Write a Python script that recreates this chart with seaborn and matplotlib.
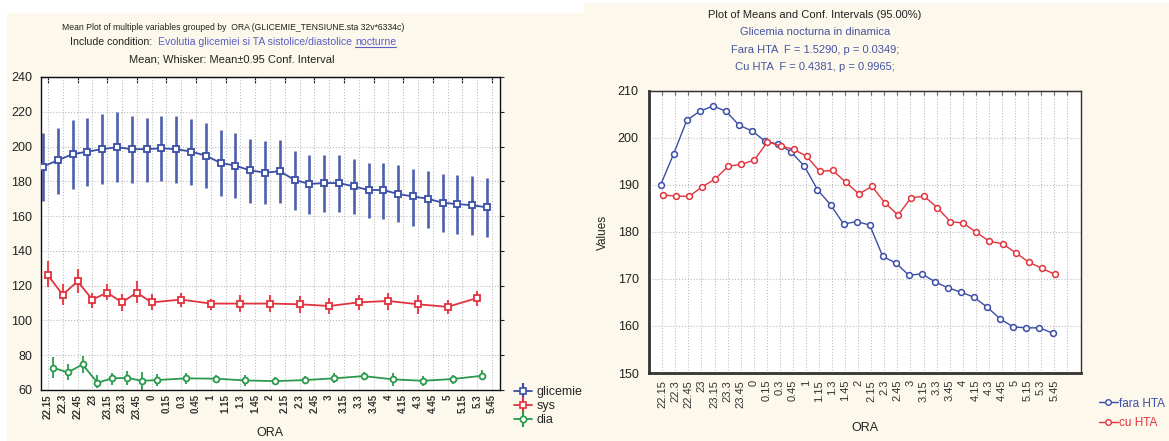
import numpy as np
import pandas as pd
import matplotlib
matplotlib.use('Agg')
import matplotlib.pyplot as plt
from matplotlib.lines import Line2D
from matplotlib.patches import Rectangle
from matplotlib.legend_handler import HandlerTuple
import seaborn as sns

# ---- data ----
ora = ['22.15', '22.3', '22.45', '23', '23.15', '23.3', '23.45', '0', '0.15', '0.3', '0.45',
       '1', '1.15', '1.3', '1.45', '2', '2.15', '2.3', '2.45', '3', '3.15', '3.3', '3.45',
       '4', '4.15', '4.3', '4.45', '5', '5.15', '5.3', '5.45']

# left panel: glicemie measured every 15 min
glic_mean = [188.5, 192.1, 195.6, 197.1, 198.5, 199.6, 198.5, 198.5, 199.0, 198.5, 197.1,
             194.8, 190.6, 189.0, 186.3, 185.0, 185.8, 180.8, 178.5, 179.0, 179.0, 177.1,
             175.0, 175.0, 172.7, 171.3, 170.0, 167.7, 166.9, 166.3, 165.0]
glic_lo = [168.8, 172.5, 175.4, 177.5, 178.3, 179.8, 178.8, 179.8, 180.2, 178.8, 177.9,
           176.0, 171.7, 170.2, 167.3, 166.9, 167.3, 163.3, 161.2, 162.5, 162.5, 161.2,
           159.2, 158.3, 156.7, 154.6, 153.3, 151.0, 149.6, 149.0, 147.7]
glic_hi = [208.0, 210.6, 215.0, 216.3, 218.7, 219.6, 217.3, 216.3, 217.3, 217.3, 215.8,
           213.8, 209.6, 208.0, 204.4, 203.3, 203.8, 197.4, 195.0, 195.0, 195.0, 192.9,
           190.8, 190.8, 189.2, 187.3, 185.8, 184.4, 183.5, 182.9, 181.7]

# tension measured less often
ta_ora = ['22.15', '22.3', '22.45', '23', '23.15', '23.3', '23.45', '0', '0.3', '1', '1.3',
          '2', '2.3', '3', '3.3', '4', '4.3', '5', '5.3']
sys_mean = [125.9, 114.8, 122.5, 112.0, 116.0, 110.4, 116.0, 110.4, 112.0, 109.7, 109.7,
            109.7, 109.3, 108.3, 110.4, 111.2, 109.3, 107.8, 112.9]
sys_lo = [119.2, 109.1, 115.8, 107.4, 111.6, 105.5, 110.0, 106.2, 107.8, 106.2, 104.9,
          104.9, 104.5, 103.9, 106.2, 105.9, 103.6, 103.6, 108.1]
sys_hi = [134.0, 121.1, 129.7, 115.8, 120.8, 115.4, 122.5, 115.4, 115.8, 112.5, 114.5,
          114.5, 113.9, 113.1, 114.5, 115.8, 114.5, 111.6, 116.9]
dia_mean = [72.8, 70.1, 74.7, 64.2, 66.7, 67.0, 65.3, 65.7, 66.7, 66.5, 65.5,
            65.1, 65.7, 66.7, 68.0, 66.1, 65.3, 66.3, 68.2]
dia_lo = [66.7, 65.7, 69.5, 60.9, 62.8, 62.8, 60.0, 62.3, 63.4, 64.2, 62.3,
          62.8, 63.4, 63.8, 65.7, 62.3, 62.3, 63.4, 65.7]
dia_hi = [79.1, 74.7, 79.7, 68.6, 70.0, 71.1, 70.5, 69.1, 69.5, 68.6, 68.6,
          67.6, 68.0, 69.5, 70.5, 69.5, 68.0, 68.6, 71.4]

# right panel: glicemia by HTA group
fara_hta = [190.1, 196.7, 203.8, 205.7, 206.8, 205.7, 202.7, 201.5, 199.3, 198.7, 197.0,
            194.0, 189.0, 185.8, 181.7, 182.2, 181.5, 174.8, 173.4, 170.8, 171.1, 169.4,
            168.1, 167.2, 166.1, 164.0, 161.5, 159.8, 159.6, 159.6, 158.5]
cu_hta = [187.9, 187.6, 187.6, 189.6, 191.3, 194.0, 194.4, 195.3, 199.2, 198.3, 197.6,
          196.1, 192.9, 193.1, 190.6, 188.1, 189.7, 186.2, 183.6, 187.3, 187.6, 185.2,
          182.2, 181.9, 179.9, 178.0, 177.5, 175.6, 173.6, 172.3, 171.0]

BLUE = '#3b4ea6'
RED = '#e2333d'
GREEN = '#2a9a4c'
CREAM = '#fdf8ec'
TBLUE = '#5a5ec6'
TBLUE2 = '#45549f'
GRID = '#bdbdbd'

sns.set_style('white')
plt.rcParams['font.family'] = ['Liberation Sans', 'DejaVu Sans']

W, H = 1169, 441
fig = plt.figure(figsize=(W / 100, H / 100), dpi=100, facecolor='white')

# cream panels behind each chart
fig.patches.append(Rectangle((7 / W, 0), 577 / W, 1 - 13 / H, transform=fig.transFigure,
                             facecolor=CREAM, edgecolor='none', zorder=-10))
fig.patches.append(Rectangle((584 / W, 0), 585 / W, 1 - 3 / H, transform=fig.transFigure,
                             facecolor=CREAM, edgecolor='none', zorder=-10))

pos = {o: i for i, o in enumerate(ora)}

# ================= left chart =================
axL = fig.add_axes([41 / W, 1 - 390 / H, 459 / W, 313 / H])
axL.set_facecolor('white')

glic = pd.DataFrame({'x': np.arange(len(ora)) - 0.34, 'mean': glic_mean,
                     'lo': glic_lo, 'hi': glic_hi})
ta_x = np.array([pos[o] for o in ta_ora], dtype=float)
sysd = pd.DataFrame({'x': ta_x, 'mean': sys_mean, 'lo': sys_lo, 'hi': sys_hi})
diad = pd.DataFrame({'x': ta_x + 0.34, 'mean': dia_mean, 'lo': dia_lo, 'hi': dia_hi})

for d, c, m, ms, wl in [(glic, BLUE, 's', 4.6, 1.9), (sysd, RED, 's', 4.2, 1.5),
                        (diad, GREEN, 'o', 4.2, 1.5)]:
    axL.vlines(d['x'], d['lo'], d['hi'], color=c, lw=wl, alpha=0.9, zorder=2)
    sns.lineplot(data=d, x='x', y='mean', ax=axL, color=c, lw=1.3, marker=m, ms=ms,
                 mfc='white', mec=c, mew=1.3, zorder=3, legend=False)

axL.set_xlim(-0.47, 30.54)
axL.set_ylim(60, 240)
axL.set_yticks(range(60, 241, 20))
axL.set_xticks(range(len(ora)))
axL.set_xticklabels(ora, rotation=90, fontsize=7, fontweight='bold', color='#333333')
axL.tick_params(axis='y', labelsize=9, colors='#222222', length=3, direction='out', right=True)
axL.tick_params(axis='x', length=0, pad=3)
axL.grid(True, ls=':', color=GRID, lw=0.8)
axL.set_xlabel('')
axL.set_ylabel('')
for s in axL.spines.values():
    s.set_color('#111111')
    s.set_linewidth(1.0)
topL = axL.secondary_xaxis('top')
topL.set_xticks(range(0, 31, 2))
topL.set_xticklabels([])
topL.tick_params(direction='in', length=4, color='#111111')
fig.text(270 / W, 1 - 433 / H, 'ORA', fontsize=9, ha='center', va='center', color='#222222')

hL = []
for c, m in [(BLUE, 's'), (RED, 's'), (GREEN, 'o')]:
    hL.append((Line2D([], [], color=c, lw=1.3, marker='|', ms=11, mew=1.5),
               Line2D([], [], color=c, ls='none', marker=m, ms=4.5, mfc='white', mec=c, mew=1.2)))
fig.legend(hL, ['glicemie', 'sys', 'dia'], loc='upper left',
           bbox_to_anchor=(503 / W, 1 - 375 / H), frameon=False, fontsize=9,
           handlelength=1.4, handletextpad=0.4, labelspacing=0.15,
           handler_map={tuple: HandlerTuple(ndivide=1)})

# ================= right chart =================
axR = fig.add_axes([649 / W, 1 - 373 / H, 432 / W, 282 / H])
axR.set_facecolor('white')
grp = pd.DataFrame({'x': np.arange(len(ora)) - 0.12, 'fara': fara_hta,
                    'cu': cu_hta})
sns.lineplot(data=grp, x='x', y='fara', ax=axR, color=BLUE, lw=1.0, marker='o', ms=4.2,
             mfc='white', mec=BLUE, mew=1.1, legend=False)
grp['x2'] = np.arange(len(ora)) + 0.05
sns.lineplot(data=grp, x='x2', y='cu', ax=axR, color=RED, lw=1.0, marker='o', ms=4.2,
             mfc='white', mec=RED, mew=1.1, legend=False)
axR.set_xlim(-1.02, 32.06)
axR.set_ylim(150, 210)
axR.set_yticks(range(150, 211, 10))
axR.set_xticks(range(len(ora) + 1))
axR.set_xticklabels(ora + [''], rotation=90, fontsize=8, color='#333333')
axR.tick_params(axis='y', labelsize=9, colors='#222222', length=4, direction='out')
axR.tick_params(axis='x', length=3, direction='out', pad=2)
axR.grid(True, ls=':', color=GRID, lw=0.8)
axR.set_xlabel('')
axR.set_ylabel('')
for k, s in axR.spines.items():
    s.set_color('#333333')
    s.set_linewidth(2.0 if k in ('left', 'bottom') else 1.0)
topR = axR.secondary_xaxis('top')
topR.set_xticks(range(len(ora) + 1))
topR.set_xticklabels([])
topR.tick_params(direction='in', length=3, color='#333333')
fig.text(865 / W, 1 - 428 / H, 'ORA', fontsize=9, ha='center', va='center', color='#222222')
fig.text(603 / W, 1 - 232 / H, 'Values', fontsize=8.5, rotation=90, ha='center',
         va='center', color='#222222')

hR = [Line2D([], [], color=BLUE, lw=1.0, marker='o', ms=4, mfc='white', mec=BLUE),
      Line2D([], [], color=RED, lw=1.0, marker='o', ms=4, mfc='white', mec=RED)]
fig.legend(hR, ['fara HTA', 'cu HTA'], loc='upper left', bbox_to_anchor=(1088 / W, 1 - 387 / H),
           frameon=False, fontsize=8.5, handlelength=1.6, handletextpad=0.1, labelspacing=0.6,
           labelcolor=[BLUE, RED])

# ================= titles =================
fig.text(233 / W, 1 - 27 / H,
         'Mean Plot of multiple variables grouped by  ORA (GLICEMIE_TENSIUNE.sta 32v*6334c)',
         fontsize=6.2, ha='center', va='center', color='#222222')
fig.text(232 / W, 1 - 60 / H, 'Mean; Whisker: Mean\u00b10.95 Conf. Interval',
         fontsize=8, ha='center', va='center', color='#222222')

# second line: mixed colours + underline
fig.canvas.draw()
rend = fig.canvas.get_renderer()
parts = [('Include condition:  ', '#222222'),
         ('Evolutia glicemiei si TA sistolice/diastolice ', TBLUE),
         ('nocturne', TBLUE)]
txts = [fig.text(0, 0, s, fontsize=7.6, color=c, ha='left', va='baseline', transform=None)
        for s, c in parts]
widths = [t.get_window_extent(rend).width for t in txts]
x0 = 233 - sum(widths) / 2
ybase = H - 45
for t, w in zip(txts, widths):
    t.set_position((x0, ybase))
    x0 += w
bb = txts[-1].get_window_extent(rend)
fig.add_artist(Line2D([bb.x0, bb.x1], [ybase - 2, ybase - 2], color=TBLUE, lw=0.8,
                      transform=None))

fig.text(815 / W, 1 - 15 / H, 'Plot of Means and Conf. Intervals (95.00%)', fontsize=8,
         ha='center', va='center', color='#222222')
fig.text(815 / W, 1 - 32 / H, 'Glicemia nocturna in dinamica', fontsize=8,
         ha='center', va='center', color=TBLUE2)
fig.text(815 / W, 1 - 50 / H, 'Fara HTA  F = 1.5290, p = 0.0349;', fontsize=8,
         ha='center', va='center', color=TBLUE2)
fig.text(815 / W, 1 - 67 / H, 'Cu HTA  F = 0.4381, p = 0.9965;', fontsize=8,
         ha='center', va='center', color=TBLUE2)

fig.savefig('out.png', dpi=100, facecolor=fig.get_facecolor())
